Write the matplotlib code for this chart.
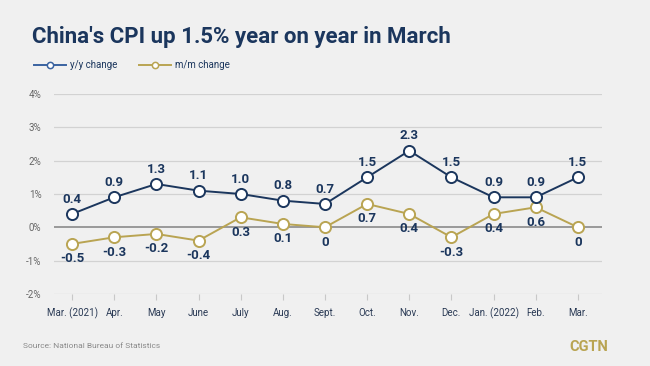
import matplotlib.pyplot as plt

# Data
months = ["Mar. (2021)", "Apr.", "May", "June", "July", "Aug.", "Sept.",
          "Oct.", "Nov.", "Dec.", "Jan. (2022)", "Feb.", "Mar."]
yoy = [0.4, 0.9, 1.3, 1.1, 1.0, 0.8, 0.7, 1.5, 2.3, 1.5, 0.9, 0.9, 1.5]
mom = [-0.5, -0.3, -0.2, -0.4, 0.3, 0.1, 0, 0.7, 0.4, -0.3, 0.4, 0.6, 0]
yoy_labels = ["0.4", "0.9", "1.3", "1.1", "1.0", "0.8", "0.7", "1.5", "2.3", "1.5", "0.9", "0.9", "1.5"]
mom_labels = ["-0.5", "-0.3", "-0.2", "-0.4", "0.3", "0.1", "0", "0.7", "0.4", "-0.3", "0.4", "0.6", "0"]
yticks = [-2, -1, 0, 1, 2, 3, 4]

navy = "#1b365d"
gold = "#b9a452"
bg = "#f0f0f0"

plt.rcParams['font.family'] = ['Roboto', 'DejaVu Sans']

fig = plt.figure(figsize=(6.5, 3.66), dpi=100, facecolor=bg)
ax = fig.add_axes([0.083, 0.197, 0.843, 0.546], facecolor=bg)

x = list(range(len(months)))

# gridlines
for v in yticks:
    if v == 0:
        ax.axhline(v, color="#8a8a8a", lw=1.2, zorder=1)
    else:
        ax.axhline(v, color="#d2d2d2", lw=0.9, zorder=0)

ax.plot(x, mom, color=gold, lw=1.4, marker="o", ms=8, mfc="white",
        mec=gold, mew=1.4, zorder=3)
ax.plot(x, yoy, color=navy, lw=1.4, marker="o", ms=8, mfc="white",
        mec=navy, mew=1.4, zorder=4)

for xi, v, s in zip(x, yoy, yoy_labels):
    ax.annotate(s, (xi, v), xytext=(0, 6), textcoords="offset points",
                ha="center", va="bottom", fontsize=9.5, fontweight="bold",
                color=navy, zorder=5)
for xi, v, s in zip(x, mom, mom_labels):
    ax.annotate(s, (xi, v), xytext=(0, -6), textcoords="offset points",
                ha="center", va="top", fontsize=9.5, fontweight="bold",
                color=navy, zorder=5)

ax.set_xlim(-0.43, 12.57)
ax.set_ylim(-2, 4)
ax.set_yticks(yticks)
ax.set_yticklabels([f"{v}%" for v in yticks])
ax.set_xticks(x)
ax.set_xticklabels(months)
ax.tick_params(axis="y", length=0, labelsize=7, labelcolor="#666666", pad=9)
ax.tick_params(axis="x", length=4, width=0.8, color="#c8c8c8",
               labelsize=7, labelcolor="#2a3a55", pad=6)
for sp in ax.spines.values():
    sp.set_visible(False)

# Title and legend
fig.text(32 / 650, 1 - 37 / 366, "China's CPI up 1.5% year on year in March",
         fontsize=16, fontweight="bold", color=navy, va="center", ha="left")

def legend_item(x0, color, label):
    lx = [x0 / 650, (x0 + 32) / 650]
    ly = [1 - 65 / 366] * 2
    fig.add_artist(plt.Line2D(lx, ly, color=color, lw=1.4))
    fig.add_artist(plt.Line2D([(x0 + 16) / 650], [1 - 65 / 366], marker="o",
                              ms=4.5, mfc="white", mec=color, mew=1.1))
    fig.text((x0 + 36) / 650, 1 - 65 / 366, label, fontsize=7, color=navy,
             va="center", ha="left")

legend_item(34, "#3a63a0", "y/y change")
legend_item(139, gold, "m/m change")

fig.text(23 / 650, 1 - 346 / 366, "Source: National Bureau of Statistics",
         fontsize=6, color="#8a8a8a", va="center", ha="left")
fig.text(608 / 650, 1 - 347 / 366, "CGTN", fontsize=10.5, fontweight="bold",
         color=gold, va="center", ha="right")

fig.savefig("out.png", dpi=100, facecolor=bg)
